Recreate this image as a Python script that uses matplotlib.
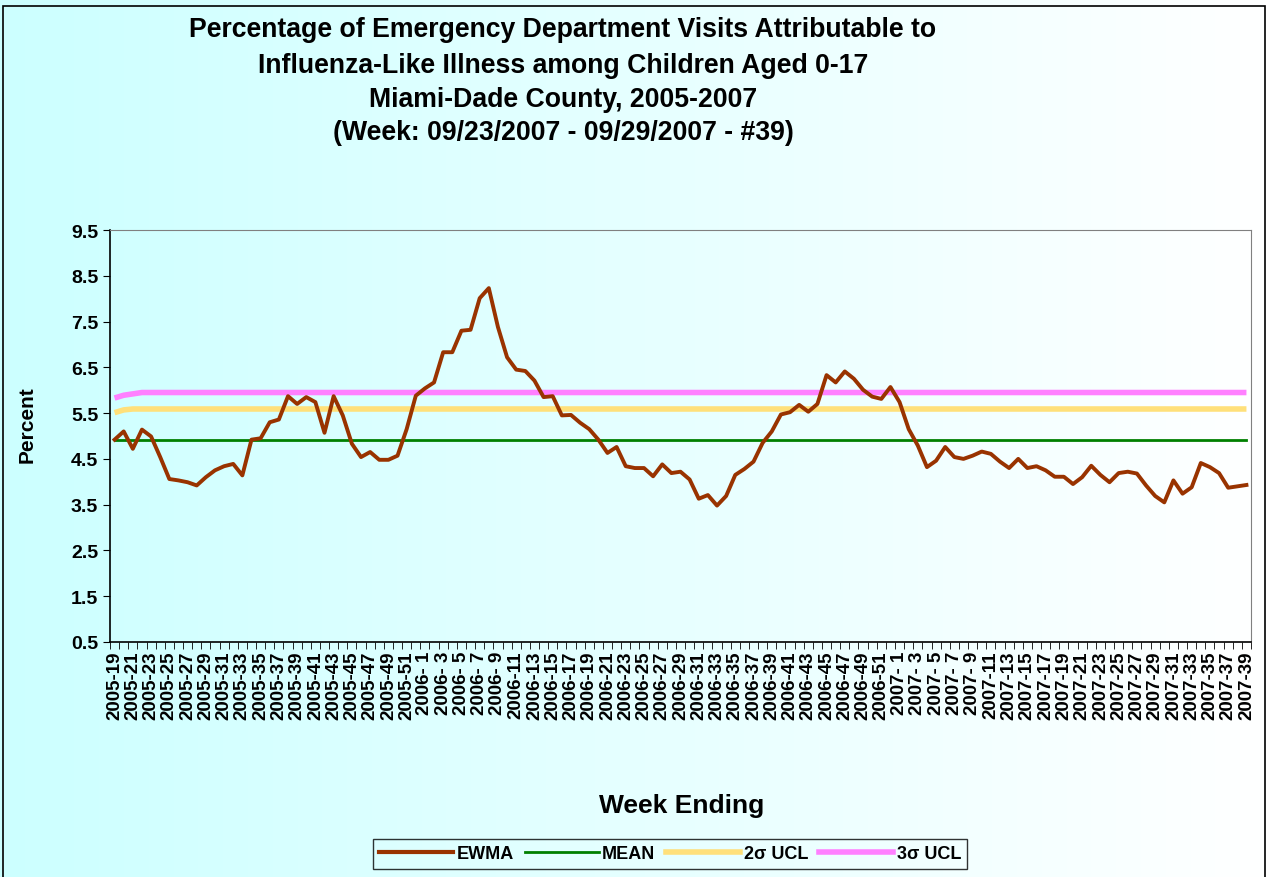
import numpy as np
import matplotlib
matplotlib.use("Agg")
import matplotlib.pyplot as plt
from matplotlib.lines import Line2D
from matplotlib.patches import Rectangle


# ----------------------------------------------------------
# Data
# ----------------------------------------------------------
week_ranges = [(2005, 19, 52), (2006, 1, 52), (2007, 1, 39)]

ewma = [
    4.92, 5.10, 4.72, 5.14, 4.99, 4.54, 4.06, 4.03, 3.99, 3.92,
    4.10, 4.25, 4.34, 4.39, 4.14, 4.92, 4.95, 5.30, 5.36, 5.87,
    5.70, 5.85, 5.74, 5.07, 5.87, 5.45, 4.83, 4.54, 4.65, 4.48,
    4.48, 4.57, 5.15, 5.88, 6.04, 6.17, 6.83, 6.83, 7.30, 7.32,
    8.01, 8.23, 7.38, 6.72, 6.45, 6.42, 6.21, 5.85, 5.87, 5.45,
    5.46, 5.29, 5.15, 4.92, 4.63, 4.76, 4.34, 4.30, 4.30, 4.12,
    4.38, 4.19, 4.22, 4.05, 3.63, 3.71, 3.48, 3.69, 4.15, 4.28,
    4.44, 4.85, 5.10, 5.47, 5.52, 5.68, 5.53, 5.70, 6.33, 6.17,
    6.41, 6.25, 6.01, 5.86, 5.81, 6.07, 5.74, 5.15, 4.79, 4.32,
    4.46, 4.76, 4.54, 4.50, 4.57, 4.66, 4.61, 4.44, 4.30, 4.50,
    4.30, 4.34, 4.25, 4.11, 4.11, 3.95, 4.10, 4.35, 4.15, 3.99,
    4.19, 4.22, 4.18, 3.92, 3.69, 3.55, 4.03, 3.74, 3.88, 4.41,
    4.32, 4.19, 3.87, 3.90, 3.93,
]

mean_value = 4.91
ucl2_start = [5.51, 5.57]
ucl2_value = 5.59
ucl3_start = [5.83, 5.89, 5.92]
ucl3_value = 5.95

y_ticks = [0.5, 1.5, 2.5, 3.5, 4.5, 5.5, 6.5, 7.5, 8.5, 9.5]

title_lines = [
    "Percentage of Emergency Department Visits Attributable to",
    "Influenza-Like Illness among Children Aged 0-17",
    "Miami-Dade County, 2005-2007",
    "(Week: 09/23/2007 - 09/29/2007 - #39)",
]


# ----------------------------------------------------------
# Build week labels like "2005-19" / "2006- 1"
# ----------------------------------------------------------
def week_labels():
    labels = []
    for year, first, last in week_ranges:
        for w in range(first, last + 1):
            labels.append(f"{year}-{w:2d}")
    return labels


# ----------------------------------------------------------
# Draw the chart
# ----------------------------------------------------------
def create_graph():
    plt.rcParams["font.family"] = ["Liberation Sans", "DejaVu Sans"]
    plt.rcParams["font.weight"] = "bold"

    labels = week_labels()
    n = len(ewma)
    x = np.arange(n)

    mean = [mean_value] * n
    ucl2 = ucl2_start + [ucl2_value] * (n - len(ucl2_start))
    ucl3 = ucl3_start + [ucl3_value] * (n - len(ucl3_start))

    fig = plt.figure(figsize=(12.7, 8.78), dpi=100)

    # gradient background, cyan -> white
    bg = fig.add_axes([0, 0, 1, 1], zorder=-10)
    grad = np.linspace(0, 1, 256)
    c0 = np.array([0.80, 1.0, 1.0])
    c1 = np.array([1.0, 1.0, 1.0])
    img = c0[None, :] + (c1 - c0)[None, :] * grad[:, None]
    bg.imshow(img[None, :, :], aspect="auto", extent=[0, 1, 0, 1])
    bg.set_xlim(0, 1)
    bg.set_ylim(0, 1)
    bg.axis("off")
    bg.add_patch(Rectangle((3 / 1270, -0.01), 1262 / 1270, 1 - 7 / 878 + 0.01,
                           fill=False, edgecolor="black", lw=1.2))

    ax = fig.add_axes([110 / 1270, 1 - 643 / 878,
                       1141 / 1270, (643 - 231) / 878])
    ax.set_facecolor("none")

    ax.plot(x, ucl3, color="#FF80FF", lw=4, solid_capstyle="butt", zorder=2)
    ax.plot(x, ucl2, color="#FFE07A", lw=4, solid_capstyle="butt", zorder=2)
    ax.plot(x, mean, color="#008000", lw=2, zorder=3)
    ax.plot(x, ewma, color="#993300", lw=2.8, zorder=4)

    ax.set_xlim(-0.5, n - 0.5)
    ax.set_ylim(0.5, 9.5)
    ax.set_yticks(y_ticks)
    ax.set_yticklabels([f"{v:.1f}" for v in y_ticks],
                       fontsize=14, fontweight="bold")

    ax.set_xticks(x[::2])
    ax.set_xticklabels(labels[::2], rotation=90, fontsize=13.5,
                       fontweight="bold")
    ax.set_xticks(np.arange(n + 1) - 0.5, minor=True)
    ax.tick_params(axis="x", which="major", length=0, pad=6)
    ax.tick_params(axis="x", which="minor", length=5, color="black")
    ax.tick_params(axis="y", length=5, color="black")

    for side in ["top", "right"]:
        ax.spines[side].set_color("#808080")
    for side in ["left", "bottom"]:
        ax.spines[side].set_color("black")
        ax.spines[side].set_linewidth(1.2)

    fig.text(27 / 1270, 1 - 425 / 878, "Percent", rotation=90,
             ha="center", va="center", fontsize=15, fontweight="bold")
    fig.text(682 / 1270, 1 - 806 / 878, "Week Ending",
             ha="center", va="center", fontsize=19, fontweight="bold")

    for yy, line in zip([30, 66, 100, 133], title_lines):
        fig.text(563 / 1270, 1 - yy / 878, line, ha="center", va="center",
                 fontsize=19.2, fontweight="bold")

    handles = [
        Line2D([], [], color="#993300", lw=3),
        Line2D([], [], color="#008000", lw=2),
        Line2D([], [], color="#FFE07A", lw=4),
        Line2D([], [], color="#FF80FF", lw=4),
    ]
    leg = fig.legend(handles, ["EWMA", "MEAN", "2σ UCL", "3σ UCL"],
                     loc="center", bbox_to_anchor=(670 / 1270, 1 - 855 / 878),
                     ncol=4, frameon=True, fancybox=False,
                     prop={"weight": "bold", "size": 13},
                     handlelength=4.1, handletextpad=0.2,
                     columnspacing=0.6, borderpad=0.35)
    leg.get_frame().set_edgecolor("black")
    leg.get_frame().set_facecolor("none")
    leg.get_frame().set_linewidth(1.0)

    fig.savefig("out.png", dpi=100)


def main():
    create_graph()


if __name__ == "__main__":
    main()
